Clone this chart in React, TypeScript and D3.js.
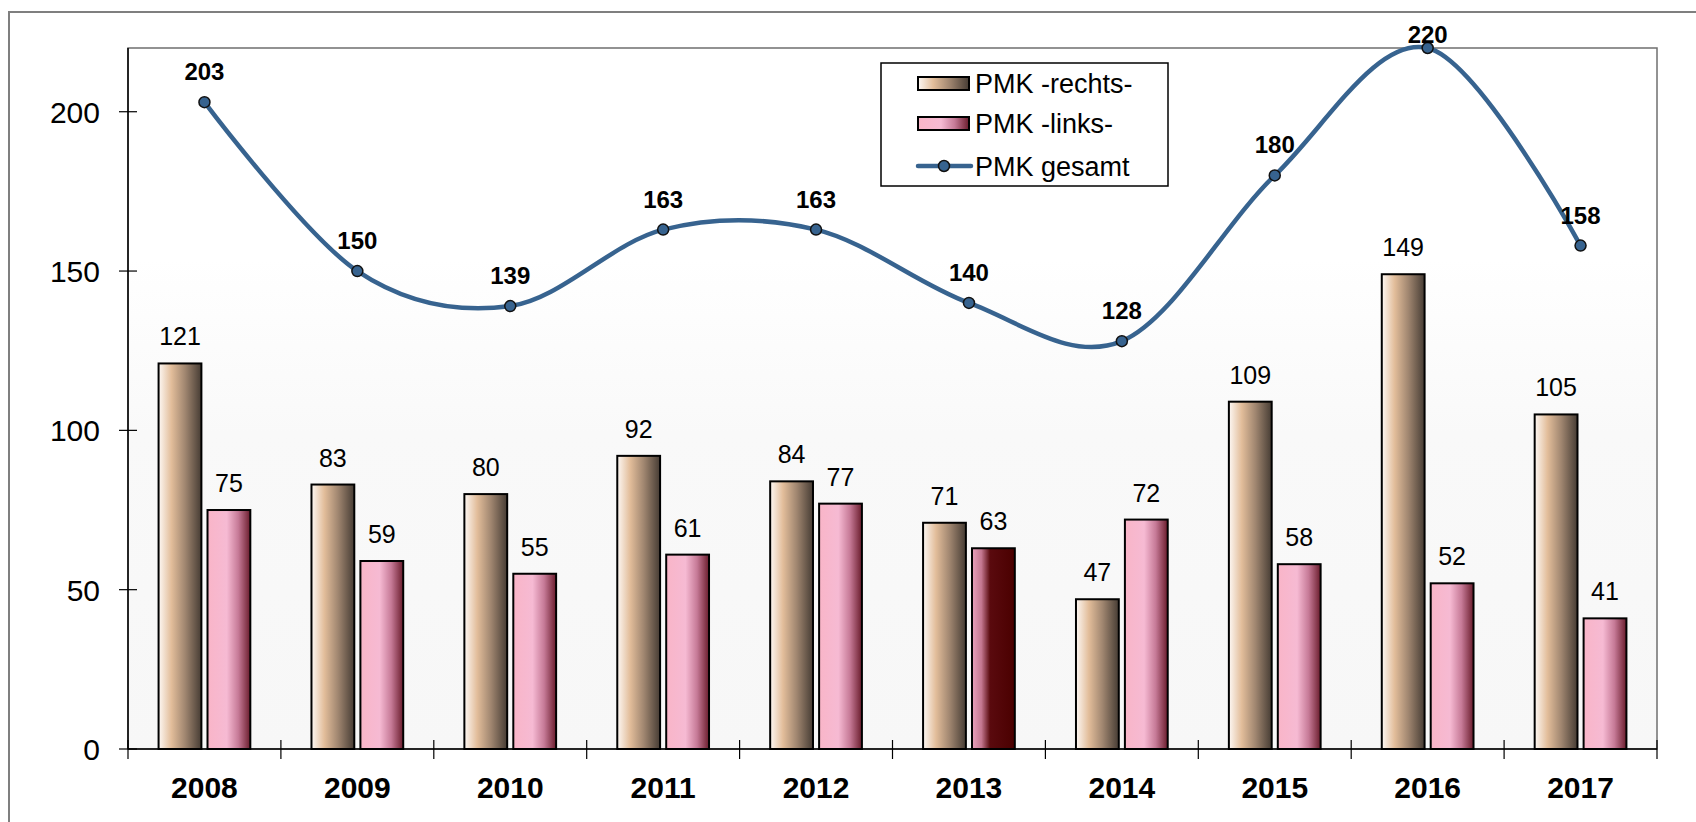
import React from 'react';
import * as d3 from 'd3';

const years = ['2008', '2009', '2010', '2011', '2012', '2013', '2014', '2015', '2016', '2017'];
const rechts = [121, 83, 80, 92, 84, 71, 47, 109, 149, 105];
const links = [75, 59, 55, 61, 77, 63, 72, 58, 52, 41];
const gesamt = [203, 150, 139, 163, 163, 140, 128, 180, 220, 158];
const yTicks = [0, 50, 100, 150, 200];
const legendLabels = ['PMK -rechts-', 'PMK -links-', 'PMK gesamt'];
// the one bar Excel coloured differently
const darkLinksYear = '2013';

const W = 1696;
const H = 822;
const plot = { left: 128, right: 1657, top: 48, bottom: 749 };
const font = 'Arial, "Liberation Sans", sans-serif';
const lineColor = '#37638f';

const App = () => {
  const x = d3.scaleBand<string>().domain(years).range([plot.left, plot.right]);
  const y = d3.scaleLinear().domain([0, 220]).range([plot.bottom, plot.top]);
  const bw = x.bandwidth();
  const barW = bw * 0.28;
  const gap = bw * 0.04;
  const groupOff = (bw - 2 * barW - gap) / 2;

  const line = d3
    .line<number>()
    .x((_, i) => (x(years[i]) as number) + bw / 2)
    .y(d => y(d))
    .curve(d3.curveCardinal.tension(0));

  const tickXs = years.map(yr => x(yr) as number).concat([plot.right]);

  return (
    <svg
      width={W}
      height={H}
      style={{ position: 'absolute', left: 0, top: 0, display: 'block', background: '#fff' }}
      fontFamily={font}
    >
      <defs>
        <linearGradient id="bgGrad" x1="0" y1="0" x2="0" y2="1">
          <stop offset="0" stopColor="#ffffff" />
          <stop offset="0.3" stopColor="#ffffff" />
          <stop offset="0.55" stopColor="#f9f9f9" />
          <stop offset="1" stopColor="#f7f7f7" />
        </linearGradient>
        <linearGradient id="gRechts" x1="0" y1="0" x2="1" y2="0">
          <stop offset="0" stopColor="#fdf8f4" />
          <stop offset="0.3" stopColor="#e2bd9a" />
          <stop offset="0.62" stopColor="#a08670" />
          <stop offset="1" stopColor="#463c34" />
        </linearGradient>
        <linearGradient id="gLinks" x1="0" y1="0" x2="1" y2="0">
          <stop offset="0" stopColor="#f9b5c8" />
          <stop offset="0.45" stopColor="#f6bad3" />
          <stop offset="0.72" stopColor="#c67a97" />
          <stop offset="1" stopColor="#6a1c2c" />
        </linearGradient>
        <linearGradient id="gLinksDark" x1="0" y1="0" x2="1" y2="0">
          <stop offset="0" stopColor="#eaa2bd" />
          <stop offset="0.22" stopColor="#c47790" />
          <stop offset="0.42" stopColor="#5a0a0e" />
          <stop offset="1" stopColor="#4a0000" />
        </linearGradient>
      </defs>

      {/* outer chart frame, clipped by the window at right and bottom */}
      <rect x={9} y={12} width={W} height={H} fill="#fff" stroke="#7f7f7f" strokeWidth={2} />

      <rect
        x={plot.left}
        y={plot.top}
        width={plot.right - plot.left}
        height={plot.bottom - plot.top}
        fill="url(#bgGrad)"
        stroke="#6f6f6f"
        strokeWidth={1.5}
      />

      {/* bars */}
      {years.map((yr, i) => {
        const x0 = (x(yr) as number) + groupOff;
        const x1 = x0 + barW + gap;
        return (
          <g key={yr}>
            <rect
              x={x0}
              y={y(rechts[i])}
              width={barW}
              height={y(0) - y(rechts[i])}
              fill="url(#gRechts)"
              stroke="#000"
              strokeWidth={2}
            />
            <rect
              x={x1}
              y={y(links[i])}
              width={barW}
              height={y(0) - y(links[i])}
              fill={yr === darkLinksYear ? 'url(#gLinksDark)' : 'url(#gLinks)'}
              stroke="#000"
              strokeWidth={2}
            />
            <text x={x0 + barW / 2} y={y(rechts[i]) - 18} textAnchor="middle" fontSize={25} fill="#000">
              {rechts[i]}
            </text>
            <text x={x1 + barW / 2} y={y(links[i]) - 18} textAnchor="middle" fontSize={25} fill="#000">
              {links[i]}
            </text>
          </g>
        );
      })}

      {/* axes */}
      <line x1={plot.left} x2={plot.left} y1={plot.top} y2={plot.bottom} stroke="#000" strokeWidth={1.5} />
      <line x1={plot.left} x2={plot.right} y1={plot.bottom} y2={plot.bottom} stroke="#000" strokeWidth={1.5} />
      {yTicks.map(t => (
        <g key={t}>
          <line x1={plot.left - 9} x2={plot.left + 9} y1={y(t)} y2={y(t)} stroke="#000" strokeWidth={1.2} />
          <text x={100} y={y(t) + 11} textAnchor="end" fontSize={30} fill="#000">
            {t}
          </text>
        </g>
      ))}
      {tickXs.map((tx, i) => (
        <line key={i} x1={tx} x2={tx} y1={plot.bottom - 9} y2={plot.bottom + 10} stroke="#000" strokeWidth={1.2} />
      ))}
      {years.map(yr => (
        <text
          key={yr}
          x={(x(yr) as number) + bw / 2}
          y={798}
          textAnchor="middle"
          fontSize={30}
          fontWeight="bold"
          fill="#000"
        >
          {yr}
        </text>
      ))}

      {/* total line */}
      <path d={line(gesamt) || ''} fill="none" stroke={lineColor} strokeWidth={4.5} />
      {gesamt.map((v, i) => {
        const cx = (x(years[i]) as number) + bw / 2;
        // Excel pushes the top label down so it stays inside the chart
        const ly = Math.max(y(v) - 22, 43);
        return (
          <g key={i}>
            <circle cx={cx} cy={y(v)} r={5.5} fill={lineColor} stroke="#111" strokeWidth={1.5} />
            <text x={cx} y={ly} textAnchor="middle" fontSize={24} fontWeight="bold" fill="#000">
              {v}
            </text>
          </g>
        );
      })}

      {/* legend */}
      <g>
        <rect x={881} y={63} width={287} height={123} fill="#fff" stroke="#000" strokeWidth={1.5} />
        <rect x={918} y={77} width={51} height={13} fill="url(#gRechts)" stroke="#000" strokeWidth={2} />
        <rect x={918} y={117} width={51} height={13} fill="url(#gLinks)" stroke="#000" strokeWidth={2} />
        <line x1={918} x2={971} y1={166} y2={166} stroke={lineColor} strokeWidth={4.5} strokeLinecap="round" />
        <circle cx={944} cy={166} r={5.5} fill={lineColor} stroke="#111" strokeWidth={1.5} />
        {legendLabels.map((l, i) => (
          <text key={l} x={975} y={[93, 133, 176][i]} fontSize={27} fill="#000">
            {l}
          </text>
        ))}
      </g>
    </svg>
  );
};

export default App;
